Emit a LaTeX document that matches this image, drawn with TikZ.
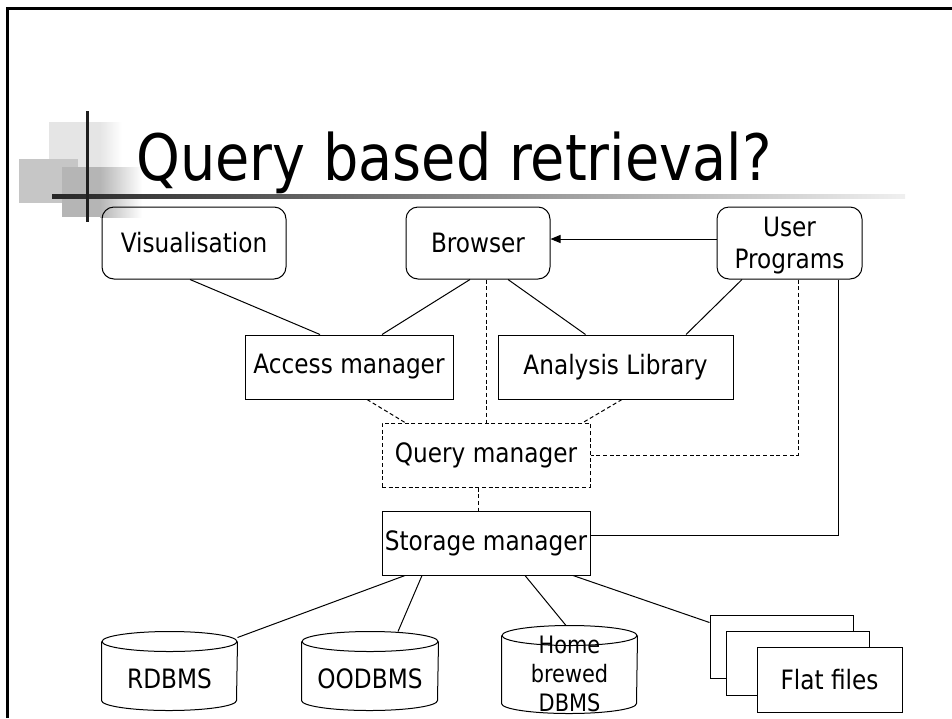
\documentclass[tikz,border=0pt]{standalone}
\usepackage{fontspec}
\setmainfont{DejaVu Sans}[FakeStretch=0.87]
\usetikzlibrary{calc,arrows.meta}
\newcommand{\mycyl}[1]{%
  \draw ($(#1.north west)+(0,10)$) -- ($(#1.south west)+(0,-10)$)
    arc[start angle=180,end angle=360,x radius=0.5*\pgfkeysvalueof{/tmp/cw},y radius=7.5pt]
    -- ($(#1.north east)+(0,10)$);
  \draw ($(#1.north)+(0,10)$) ellipse [x radius=0.5*\pgfkeysvalueof{/tmp/cw},y radius=7.5pt];}
\begin{document}
\begin{tikzpicture}[x=0.75pt,y=-0.75pt,line width=0.75pt,
  txt/.style={font=\fontsize{20}{24}\selectfont},
  box/.style={draw,txt,inner sep=0pt,align=center},
  rbox/.style={box,rounded corners=9pt},
  dsh/.style={dash pattern=on 3pt off 2pt},
  cylnode/.style={inner sep=0pt,txt,align=center}]
\useasboundingbox (0,0) rectangle (952,718);
% slide border
\draw[line width=2.25pt] (7,718) -- (7,8) -- (952,8);
% title decoration
\fill[gray!20] (49,122) rectangle (100,172);
\shade[left color=gray!20,right color=white] (100,122) rectangle (122,172);
\fill[gray!45] (19,159) rectangle (78,203);
\fill[gray!58] (62,167) rectangle (100,217);
\shade[left color=gray!58,right color=white] (100,167) rectangle (142,217);
\shade[left color=black!85,right color=gray!12] (52,194) rectangle (905,198);
\draw[line width=2.25pt,black!88] (87,111) -- (87,222);
\node[anchor=base west,inner sep=0pt,font=\fontsize{48}{56}\selectfont] (title) at (136,180) {Query based retrieval?};
% nodes
\node[rbox,minimum width=138pt,minimum height=54pt] (vis) at (194,243) {Visualisation};
\node[rbox,minimum width=108pt,minimum height=54pt] (brow) at (478,243) {Browser};
\node[rbox,minimum width=108.75pt,minimum height=54pt] (up) at (789.5,243) {\raisebox{-2pt}[\height][\depth]{\begin{tabular}{@{}c@{}}User\\Programs\end{tabular}}};
\node[box,minimum width=156pt,minimum height=48pt] (acc) at (349,367) {Access manager};
\node[box,minimum width=176.25pt,minimum height=48pt] (an) at (615.5,367) {Analysis Library};
\node[box,dsh,minimum width=156pt,minimum height=48pt] (qm) at (486,455) {Query manager};
\node[box,minimum width=156pt,minimum height=48pt] (sm) at (486,543) {Storage manager};
% cylinders
\node[cylnode,minimum width=101.25pt,minimum height=58.5pt] (rdb) at (169.5,671) {\raisebox{-5.5pt}[\height][\depth]{RDBMS}};
\node[cylnode,minimum width=102pt,minimum height=58.5pt] (oodb) at (370,671) {\raisebox{-5.5pt}[\height][\depth]{OODBMS}};
\node[cylnode,minimum width=101.25pt,minimum height=57.75pt,font=\fontsize{18}{21.75}\selectfont] (home) at (569.5,669.5) {\raisebox{-5.5pt}[\height][\depth]{\begin{tabular}{@{}c@{}}Home\\brewed\\DBMS\end{tabular}}};
\pgfkeyssetvalue{/tmp/cw}{101.25pt}
\mycyl{rdb}
\pgfkeyssetvalue{/tmp/cw}{102pt}
\mycyl{oodb}
\pgfkeyssetvalue{/tmp/cw}{101.25pt}
\mycyl{home}
% flat files
\node[box,fill=white,minimum width=107.25pt,minimum height=47.25pt] (ff1) at (781.5,646.5) {};
\node[box,fill=white,minimum width=107.25pt,minimum height=48pt] (ff2) at (797.5,663) {};
\node[box,fill=white,minimum width=108.75pt,minimum height=48.75pt] (ff3) at (829.5,679.5) {Flat files};
% connectors
\draw ($(vis.south)+(-4,0)$) -- ($(acc.north)+(-29,0)$);
\draw ($(brow.south)+(-8,0)$) -- ($(acc.north)+(33,0)$);
\draw ($(brow.south)+(30,0)$) -- ($(an.north)+(-30,0)$);
\draw ($(up.south)+(-47.5,0)$) -- ($(an.north)+(70.5,0)$);
\draw[-{Triangle[length=7.5pt,width=6pt]}] ($(up.west)+(0,-4)$) -- ($(brow.east)+(0,-4)$);
\draw[dsh] ($(brow.south)+(8,0)$) -- (qm.north);
\draw[dsh] ($(acc.south)+(18,0)$) -- ($(qm.north)+(-81,0)$);
\draw[dsh] ($(an.south)+(6.5,0)$) -- ($(qm.north)+(97,0)$);
\draw[dsh] ($(up.south)+(8.5,0)$) |- (qm.east);
\draw ($(up.south)+(48.5,0)$) |- ($(sm.east)+(0,-8)$);
\draw[dsh] ($(qm.south)+(-8,0)$) -- ($(sm.north)+(-8,0)$);
\draw ($(sm.south)+(-81,0)$) -- ($(rdb.north east)+(0,6)$);
\draw ($(sm.south)+(-64,0)$) -- ($(oodb.north)+(28,0)$);
\draw ($(sm.south)+(39,0)$) -- ($(home.north)+(-3.5,0)$);
\draw ($(sm.south)+(87,0)$) -- ($(ff1.north west)+(0,8)$);
\end{tikzpicture}
\end{document}
